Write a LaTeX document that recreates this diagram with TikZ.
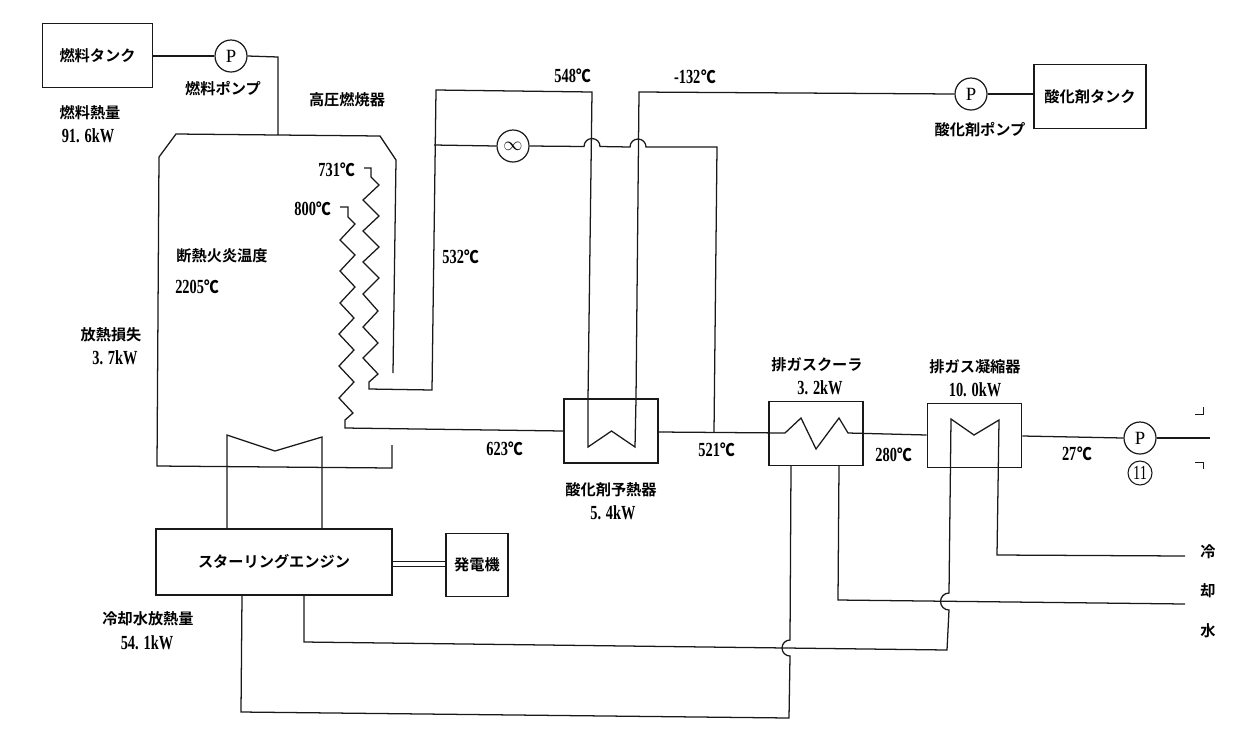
\documentclass[tikz,border=0pt]{standalone}
\usepackage{fontspec}
\setmainfont{Liberation Serif}
\newfontfamily\jp{Noto Sans CJK JP}[BoldFont={Noto Sans CJK JP Bold}]
\newfontfamily\jpn{Noto Sans CJK JP}[FakeStretch=0.85]
\newfontfamily\dig{Liberation Serif}[FakeStretch=0.72,Scale=1.0]
\newcommand{\Cdeg}{\hspace{0.6pt}{\jpn\fontsize{13pt}{13pt}\selectfont ℃}}
\tikzset{
  pipe/.style={draw=black!90,line width=0.95pt,line join=miter},
  thin pipe/.style={draw=black!90,line width=0.75pt},
  unit/.style={draw=black!90,line width=0.95pt,rectangle,inner sep=0pt,font=\jp\bfseries\fontsize{11.4pt}{12pt}\selectfont},
  pump/.style={draw=black!90,line width=0.9pt,circle,minimum size=24pt,inner sep=0pt,font=\fontsize{14pt}{14pt}\selectfont},
  jl/.style={inner sep=0pt,font=\jp\bfseries\fontsize{11.4pt}{12pt}\selectfont},
  nl/.style={inner sep=0pt,font=\dig\bfseries\fontsize{15pt}{15pt}\selectfont},
}
\begin{document}
\begin{tikzpicture}[x=0.75pt,y=-0.75pt]
\useasboundingbox (0,0) rectangle (1234,740);
% units
\node[unit,minimum width=83pt,minimum height=47.5pt] (ftank) at (97.5,55.5) {燃料タンク};
\node[unit,minimum width=84pt,minimum height=47.5pt] (otank) at (1090,96.5) {酸化剤タンク};
\node[unit,minimum width=177pt,minimum height=49.5pt] (engine) at (274,562) {スターリングエンジン};
\node[unit,minimum width=46.5pt,minimum height=47pt] (gen) at (477,565) {発電機};
\node[unit,minimum width=70.5pt,minimum height=48pt] (preheat) at (611,431) {};
\node[unit,minimum width=70.5pt,minimum height=47.5pt] (cooler) at (816,433.5) {};
\node[unit,minimum width=71pt,minimum height=47.5pt] (cond) at (974.5,435.5) {};
\node[pump] (fp) at (231,56) {P};
\node[pump] (op) at (971,94) {P};
\node[pump] (wp) at (1140,438) {P};
\node[pump] (fan) at (513,146) {\fontsize{15pt}{15pt}\selectfont $\infty$};
\node[draw=black!90,line width=0.8pt,circle,minimum size=18pt,inner sep=0pt,font=\dig\fontsize{15pt}{15pt}\selectfont] (n11) at (1140,473) {11};
% labels
\node[jl] (l1) at (223,89) {燃料ポンプ};
\node[jl] (l2) at (347,100) {高圧燃焼器};
\node[jl] (l3) at (90,113) {燃料熱量};
\node[nl] (l4) at (88,136) {91. 6kW};
\node[jl] (l5) at (222,256) {断熱火炎温度};
\node[nl,anchor=west] (l6) at (175,287) {2205\Cdeg};
\node[nl] (l7) at (337,170) {731\Cdeg};
\node[nl] (l8) at (313,209) {800\Cdeg};
\node[nl] (l9) at (461,257) {532\Cdeg};
\node[nl] (l10) at (573,76) {548\Cdeg};
\node[nl] (l11) at (695,77) {-132\Cdeg};
\node[jl] (l12) at (111,335) {放熱損失};
\node[nl] (l13) at (115,358) {3. 7kW};
\node[nl] (l14) at (505,449) {623\Cdeg};
\node[nl] (l15) at (717,450) {521\Cdeg};
\node[nl] (l16) at (894,455) {280\Cdeg};
\node[nl] (l17) at (1077,454) {27\Cdeg};
\node[jl] (l18) at (611,490) {酸化剤予熱器};
\node[nl] (l19) at (613,513) {5. 4kW};
\node[jl] (l20) at (817,365) {排ガスクーラ};
\node[nl] (l21) at (820,388) {3. 2kW};
\node[jl] (l22) at (975,367) {排ガス凝縮器};
\node[nl] (l23) at (975,390) {10. 0kW};
\node[jl] (l24) at (148,619) {冷却水放熱量};
\node[nl] (l25) at (147,643) {54. 1kW};
\node[jl] (l26) at (980,130) {酸化剤ポンプ};
\node[jl] (w1) at (1208,552) {冷};
\node[jl] (w2) at (1208,591) {却};
\node[jl] (w3) at (1208,631) {水};
% routing points
\coordinate (bt) at (278,135);
\coordinate (out) at (1210,438);
\coordinate (c1e) at (1185,556);
\coordinate (c2e) at (1185,604);
% fuel and oxidiser feed
\draw[pipe] (ftank.east |- fp) -- (fp);
\draw[pipe] (fp.east) -- (278,57) -- (bt);
\draw[pipe] (op.east) -- (otank.west |- op);
\draw[pipe] (op.west) -- (639,92) -- (636,399) -- (635,447) -- (611.5,431) -- (588,447) -- (588,399) -- (592,92) -- (436,90) -- (432,390) -- (369,389) -- (369,382) -- (378,374)
 -- (363,358) -- (378,343) -- (363,327) -- (378,311) -- (363,294) -- (379,278) -- (363,262) -- (379,247) -- (363,231) -- (379,216) -- (363,200) -- (379,185) -- (371,177) -- (371,168) -- (364,168);
% boiler outline
\draw[pipe] (393,373) -- (396,160) -- (380,136) -- (176,134) -- (159,157) -- (157,466) -- (392,468) -- (392,445);
% second coil and exhaust line
\draw[pipe] (340,207) -- (348,207) -- (348,217) -- (355,224) -- (340,240) -- (355,255) -- (340,271) -- (355,287) -- (340,303) -- (354,318) -- (339,334) -- (354,350) -- (339,366) -- (354,382) -- (339,398) -- (353,413) -- (345,420) -- (345,428) -- (preheat.west |- 0,431);
% heat collector to engine
\draw[pipe] (engine.north -| 227,0) -- (227,435) -- (275,451) -- (322,437) -- (engine.north -| 322,0);
% recirculation with fan
\draw[pipe] (434,145) -- (fan.west);
\draw[pipe] (fan.east) -- (584,146.5) arc[start angle=180,end angle=360,radius=8] -- (630,147) arc[start angle=180,end angle=360,radius=8] -- (717,147) -- (714,432);
% exhaust
\draw[pipe] (preheat.east |- 0,432) -- (785,433) -- (801,418) -- (816,449) -- (839,418) -- (848,433) -- (cond.west |- 0,435);
\draw[pipe] (cond.east |- 0,436) -- (wp.west);
\draw[pipe] (wp.east) -- (out);
% condenser coil and cooling water
\draw[pipe] (c1e) -- (997,555) -- (999,420) -- (974,435) -- (951,419) -- (949,593) arc[start angle=270,end angle=90,radius=8.5] -- (947,650) -- (304,642) -- (engine.south -| 304,0);
\draw[pipe] (cooler.south -| 839,0) -- (838,600) -- (c2e);
\draw[pipe] (cooler.south -| 791,0) -- (790,640) arc[start angle=270,end angle=90,radius=8] -- (789,718) -- (241,712) -- (engine.south -| 242,0);
% shaft
\draw[thin pipe] (engine.east |- 0,561.5) -- (gen.west |- 0,561.5);
\draw[thin pipe] (engine.east |- 0,566) -- (gen.west |- 0,566);
% crop marks
\draw[thin pipe] (1195,414) -- (1203,414) -- (1203,407);
\draw[thin pipe] (1195,462) -- (1203,462) -- (1203,469);
\end{tikzpicture}
\end{document}
